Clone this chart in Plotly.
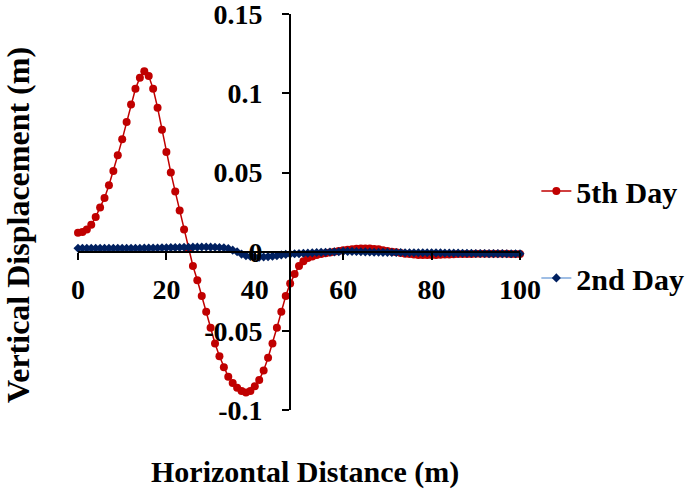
import plotly.graph_objects as go

# horizontal distance (m)
distance = list(range(0, 101))

# vertical displacement (m), 5th day
day5 = [
    0.012, 0.0125, 0.014, 0.017, 0.022, 0.028, 0.034, 0.042, 0.051, 0.061,
    0.071, 0.082, 0.093, 0.103, 0.110, 0.114, 0.111, 0.103, 0.091, 0.077,
    0.063, 0.050, 0.038, 0.026, 0.014, 0.002, -0.009, -0.018, -0.028, -0.038,
    -0.048, -0.058, -0.066, -0.073, -0.079, -0.083, -0.086, -0.088, -0.089, -0.088,
    -0.085, -0.081, -0.075, -0.067, -0.058, -0.048, -0.038, -0.028, -0.020, -0.014,
    -0.009, -0.006, -0.004, -0.003, -0.002, -0.0015, -0.001, -0.0005, 0.0, 0.0005,
    0.001, 0.0013, 0.0016, 0.0019, 0.002, 0.002, 0.002, 0.0018, 0.0015, 0.001,
    0.0005, 0.0, -0.0004, -0.0008, -0.0012, -0.0015, -0.0018, -0.002, -0.002, -0.002,
    -0.002, -0.002, -0.0019, -0.0018, -0.0017, -0.0016, -0.0015, -0.0015, -0.0014, -0.0014,
    -0.0013, -0.0013, -0.0013, -0.0012, -0.0012, -0.0012, -0.0012, -0.0013, -0.0014, -0.0015,
    -0.0015,
]

# vertical displacement (m), 2nd day
day2 = [
    0.0022, 0.0022, 0.0022, 0.0022, 0.0022, 0.0022, 0.0022, 0.0022, 0.0022, 0.0022,
    0.0022, 0.0022, 0.0022, 0.0022, 0.0022, 0.0023, 0.0023, 0.0024, 0.0024, 0.0025,
    0.0025, 0.0026, 0.0026, 0.0027, 0.0028, 0.0028, 0.0029, 0.0029, 0.003, 0.003,
    0.0029, 0.0028, 0.0027, 0.0025, 0.002, 0.001, 0.0, -0.0015, -0.0025, -0.003,
    -0.0033, -0.0034, -0.0033, -0.0031, -0.0028, -0.0025, -0.002, -0.0017, -0.0015, -0.0013,
    -0.0012, -0.001, -0.0009, -0.0007, -0.0005, -0.0004, -0.0003, -0.0002, -0.0001, 0.0,
    0.0002, 0.0002, 0.0002, 0.0001, 0.0, -0.0001, -0.0002, -0.0003, -0.0003, -0.0004,
    -0.0004, -0.0005, -0.0005, -0.0005, -0.0006, -0.0006, -0.0006, -0.0006, -0.0006, -0.0006,
    -0.0006, -0.0007, -0.0007, -0.0008, -0.0008, -0.0009, -0.0009, -0.001, -0.001, -0.001,
    -0.0011, -0.0011, -0.0011, -0.0012, -0.0012, -0.0012, -0.0012, -0.0013, -0.0013, -0.0013,
    -0.0013,
]

x_ticks = [0, 20, 40, 60, 80, 100]
y_ticks = [-0.1, -0.05, 0, 0.05, 0.1, 0.15]
y_labels = ["-0.1", "-0.05", "0", "0.05", "0.1", "0.15"]

FONT = "Liberation Serif"
red = "#C00000"
navy = "#002060"

fig = go.Figure()

fig.add_trace(go.Scatter(
    x=distance, y=day5, name="5th Day", mode="lines+markers",
    line=dict(color=red, width=1.5),
    marker=dict(color=red, size=8, symbol="circle"),
    cliponaxis=False, legend="legend",
))

fig.add_trace(go.Scatter(
    x=distance, y=day2, name="2nd Day", mode="lines+markers",
    line=dict(color="#7FA8DC", width=1.5),
    marker=dict(color=navy, size=7, symbol="diamond"),
    cliponaxis=False, legend="legend2",
))

tick_font = dict(family=FONT, size=28, color="black", weight="bold")

fig.update_xaxes(
    range=[0, 100], tickvals=x_ticks, showgrid=False, zeroline=False,
    showline=True, linecolor="black", linewidth=2,
    ticks="outside", ticklen=7, tickwidth=2, tickcolor="black",
    ticklabelstandoff=6, ticklabeloverflow="allow",
    tickfont=tick_font, anchor="free", position=0.4, automargin=False,
)
fig.update_yaxes(
    range=[-0.1, 0.1502], tickvals=y_ticks, ticktext=y_labels,
    showgrid=False, zeroline=False,
    showline=True, linecolor="black", linewidth=2,
    ticks="outside", ticklen=7, tickwidth=2, tickcolor="black",
    ticklabelstandoff=14, ticklabeloverflow="allow",
    tickfont=tick_font, anchor="free", position=0.48, automargin=False,
)

legend_style = dict(
    font=dict(family=FONT, size=30, color="black", weight="bold"),
    bgcolor="rgba(0,0,0,0)", itemwidth=30,
    xref="container", yref="container",
    xanchor="left", yanchor="middle", x=0.783,
)

fig.update_layout(
    width=685, height=491,
    margin=dict(l=78, r=165, t=14, b=81),
    paper_bgcolor="white", plot_bgcolor="white",
    font=dict(family=FONT, color="black"),
    showlegend=True,
    legend=dict(y=0.611, **legend_style),
    legend2=dict(y=0.434, **legend_style),
    annotations=[
        dict(text="Horizontal Distance (m)", xref="paper", yref="paper",
             x=0.514, y=-0.157, xanchor="center", yanchor="middle", showarrow=False,
             font=dict(family=FONT, size=30, color="black", weight="bold")),
        dict(text="Vertical Displacement (m)", xref="paper", yref="paper",
             x=-0.136, y=0.467, xanchor="center", yanchor="middle", showarrow=False,
             textangle=-90,
             font=dict(family=FONT, size=32, color="black", weight="bold")),
    ],
)

fig.write_html("out.html", config={"displayModeBar": False},
               post_script="document.body.style.margin='0';")
